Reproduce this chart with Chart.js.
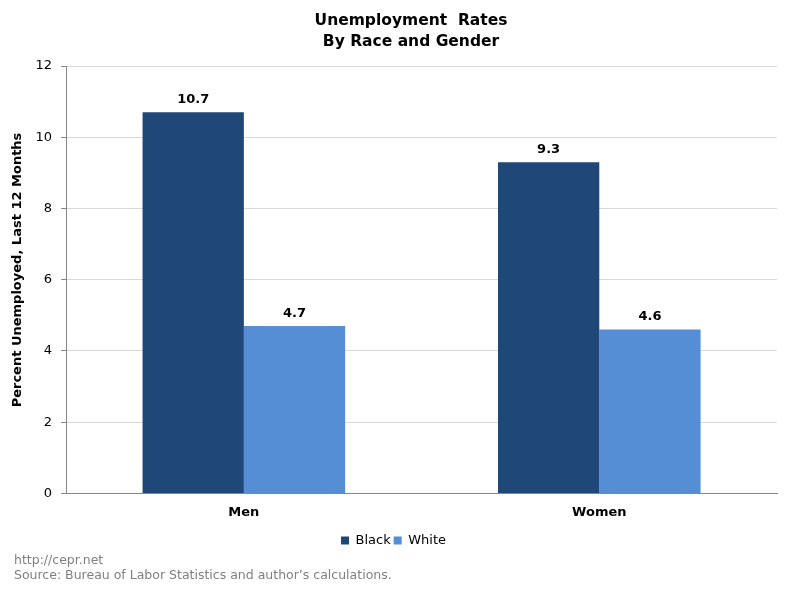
<!DOCTYPE html>
<html>
<head>
<meta charset="utf-8">
<script src="https://cdn.jsdelivr.net/npm/chart.js@4"></script>
<style>
  html, body { margin: 0; padding: 0; background: #fff; }
  #wrap { width: 791px; height: 591px; }
</style>
</head>
<body>
<div id="wrap"><canvas id="c" width="791" height="591"></canvas></div>
<script>
const categories = ["Men", "Women"];
const blackValues = [10.7, 9.3];
const whiteValues = [4.7, 4.6];
const seriesNames = ["Black", "White"];
const titleLines = ["Unemployment  Rates", "By Race and Gender"];
const yTitle = "Percent Unemployed, Last 12 Months";
const footerLines = ["http://cepr.net", "Source: Bureau of Labor Statistics and author\u2019s calculations."];

const FONT = "Verdana, 'DejaVu Sans', sans-serif";

// value labels above every bar
const barLabels = {
  id: "barLabels",
  afterDatasetsDraw(chart) {
    const ctx = chart.ctx;
    ctx.save();
    ctx.font = "bold 13px " + FONT;
    ctx.fillStyle = "#000";
    ctx.textAlign = "center";
    ctx.textBaseline = "bottom";
    chart.data.datasets.forEach((ds, i) => {
      chart.getDatasetMeta(i).data.forEach((bar, j) => {
        ctx.fillText(ds.data[j].toFixed(1), bar.x, bar.y - 6);
      });
    });
    ctx.restore();
  }
};

// title, y-axis caption and source notes, drawn where the original puts them
const texts = {
  id: "texts",
  afterDraw(chart) {
    const ctx = chart.ctx;
    ctx.save();
    ctx.font = "bold 15.5px " + FONT;
    ctx.fillStyle = "#000";
    ctx.textAlign = "center";
    ctx.textBaseline = "middle";
    titleLines.forEach((t, i) => ctx.fillText(t, 411, 21 + i * 21));

    ctx.save();
    ctx.font = "bold 13px " + FONT;
    ctx.translate(18, 270);
    ctx.rotate(-Math.PI / 2);
    ctx.fillText(yTitle, 0, 0);
    ctx.restore();

    ctx.font = "12.5px " + FONT;
    ctx.fillStyle = "#808080";
    ctx.textAlign = "left";
    footerLines.forEach((t, i) => ctx.fillText(t, 14, 561 + i * 15));
    ctx.restore();
  }
};

new Chart(document.getElementById("c"), {
  type: "bar",
  data: {
    labels: categories,
    datasets: [
      { label: seriesNames[0], data: blackValues, backgroundColor: "#1F4778" },
      { label: seriesNames[1], data: whiteValues, backgroundColor: "#558ED5" }
    ]
  },
  options: {
    responsive: false,
    animation: false,
    devicePixelRatio: 1,
    categoryPercentage: 0.57,
    barPercentage: 1.0,
    layout: { padding: { left: 10, right: 14, top: 66, bottom: 34 } },
    plugins: {
      title: { display: false },
      legend: {
        position: "bottom",
        labels: {
          boxWidth: 8,
          boxHeight: 8,
          padding: 3,
          color: "#000",
          font: { family: FONT, size: 13 }
        }
      },
      tooltip: { enabled: false }
    },
    scales: {
      x: {
        grid: { display: false, drawTicks: false },
        border: { color: "#868686" },
        ticks: { color: "#000", padding: 11, font: { family: FONT, size: 13, weight: "bold" } }
      },
      y: {
        min: 0,
        max: 12,
        ticks: { stepSize: 2, color: "#000", padding: 9, font: { family: FONT, size: 13 } },
        grid: { color: "#d9d9d9", tickLength: 5, tickColor: "#868686" },
        border: { color: "#868686" },
        // keeps the room for the caption; the caption itself is drawn by the texts plugin
        title: {
          display: true,
          text: yTitle,
          color: "rgba(0,0,0,0)",
          font: { family: FONT, size: 13, weight: "bold" },
          padding: { top: 0, bottom: 1 }
        }
      }
    }
  },
  plugins: [barLabels, texts]
});
</script>
</body>
</html>
